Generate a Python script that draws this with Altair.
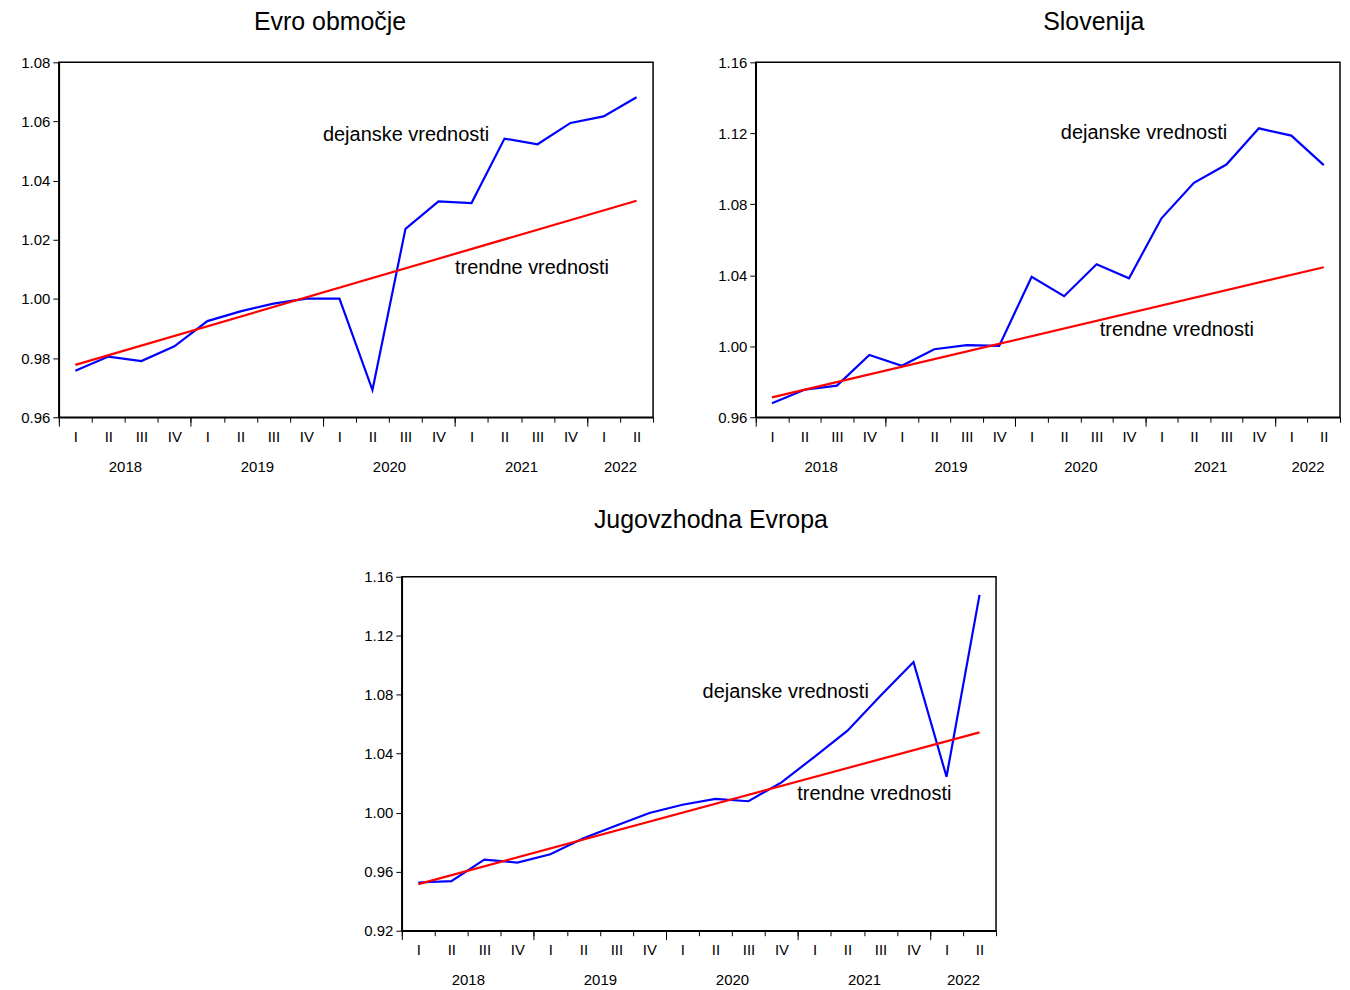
import json
import altair as alt
import pandas as pd

# ---------------- data ----------------
YEARS = ["2018", "2019", "2020", "2021", "2022"]
QUARTER_LABELS = ["I", "II", "III", "IV"]
N_PERIODS = 18  # 2018 Q1 .. 2022 Q2

EA_ACTUAL = [0.9757, 0.9805, 0.9790, 0.9840, 0.9925, 0.9958, 0.9984, 1.0001,
             1.0001, 0.9692, 1.0237, 1.0330, 1.0324, 1.0542, 1.0523, 1.0595,
             1.0617, 1.0682]
EA_TREND = [0.9777, 1.0332]          # first and last quarter of the linear trend
EA_YTICKS = [0.96, 0.98, 1.00, 1.02, 1.04, 1.06, 1.08]

SI_ACTUAL = [0.9679, 0.9755, 0.9778, 0.9951, 0.9890, 0.9983, 1.0006, 1.0002,
             1.0391, 1.0282, 1.0462, 1.0383, 1.0721, 1.0921, 1.1024, 1.1228,
             1.1187, 1.1021]
SI_TREND = [0.9712, 1.0445]
SI_YTICKS = [0.96, 1.00, 1.04, 1.08, 1.12, 1.16]

SEE_ACTUAL = [0.9527, 0.9536, 0.9682, 0.9662, 0.9718, 0.9827, 0.9913, 0.9998,
              1.0054, 1.0094, 1.0078, 1.0206, 1.0379, 1.0556, 1.0793, 1.1022,
              1.0244, 1.1477]
SEE_TREND = [0.9516, 1.0545]
SEE_YTICKS = [0.92, 0.96, 1.00, 1.04, 1.08, 1.12, 1.16]

LABEL_ACTUAL = "dejanske vrednosti"
LABEL_TREND = "trendne vrednosti"

# ---------------- helpers ----------------
PERIODS = [(y, q) for y in YEARS for q in QUARTER_LABELS][:N_PERIODS]
X_POS = [i + 0.5 for i in range(N_PERIODS)]
YEAR_POS = []
for y in YEARS:
    xs = [X_POS[i] for i, p in enumerate(PERIODS) if p[0] == y]
    YEAR_POS.append(sum(xs) / len(xs))

FONT = "Liberation Sans"
BLUE = "#0000FF"
RED = "#FF0000"

Q_EXPR = f"{json.dumps(QUARTER_LABELS)}[floor(datum.value) % 4]"
Y_EXPR = f"{json.dumps(YEARS)}[floor(datum.value / 4)]"


def make_panel(title, actual, trend, yticks, ann, title_dx,
               title_offset, width, height):
    df = pd.DataFrame({"x": X_POS, "v": actual})
    tdf = pd.DataFrame({"x": [X_POS[0], X_POS[-1]], "v": trend})
    adf = pd.DataFrame(ann)

    xscale = alt.Scale(domain=[0, N_PERIODS], nice=False, zero=False)
    yscale = alt.Scale(domain=[yticks[0], yticks[-1]], nice=False, zero=False)

    yenc = alt.Y("v:Q", scale=yscale, title=None,
                 axis=alt.Axis(values=yticks, format=".2f", tickSize=6,
                               labelPadding=3, minExtent=50,
                               labelFlush=False, labelOverlap=False, grid=False))

    actual_line = alt.Chart(df).mark_line(color=BLUE, strokeWidth=2.2).encode(
        x=alt.X("x:Q", scale=xscale, title=None,
                axis=alt.Axis(orient="bottom", values=list(range(N_PERIODS + 1)),
                              tickSize=5, labels=False, domain=True, grid=False)),
        y=yenc,
    )
    trend_line = alt.Chart(tdf).mark_line(color=RED, strokeWidth=2.2).encode(
        x=alt.X("x:Q", scale=xscale, title=None,
                axis=alt.Axis(orient="bottom",
                              values=list(range(0, N_PERIODS, 4)),
                              tickSize=9, labels=False, domain=False, grid=False)),
        y=alt.Y("v:Q", scale=yscale, title=None),
    )
    texts = alt.Chart(adf).mark_text(align="left", baseline="middle",
                                     fontSize=20, font=FONT, color="black").encode(
        x=alt.X("x:Q", scale=xscale, title=None,
                axis=alt.Axis(orient="bottom", values=X_POS, ticks=False,
                              labelExpr=Q_EXPR, labelPadding=12, domain=False,
                              grid=False, labelFlush=False, labelOverlap=False)),
        y=alt.Y("y:Q", scale=yscale, title=None),
        text="t:N",
    )
    years = alt.Chart(df).mark_point(opacity=0).encode(
        x=alt.X("x:Q", scale=xscale, title=None,
                axis=alt.Axis(orient="bottom", values=YEAR_POS, ticks=False,
                              labelExpr=Y_EXPR, labelPadding=42, domain=False,
                              grid=False, labelFlush=False, labelOverlap=False)),
        y=alt.Y("v:Q", scale=yscale, title=None),
    )
    return alt.layer(actual_line, trend_line, texts, years).resolve_axis(
        x="independent"
    ).properties(
        width=width, height=height,
        title=alt.TitleParams(title, frame="group", dx=title_dx,
                              offset=title_offset),
    )


p1 = make_panel("Evro območje", EA_ACTUAL, EA_TREND, EA_YTICKS,
                {"t": [LABEL_ACTUAL, LABEL_TREND], "x": [8.0, 12.0],
                 "y": [1.0555, 1.0106]},
                -26, 20, 596, 356)
p2 = make_panel("Slovenija", SI_ACTUAL, SI_TREND, SI_YTICKS,
                {"t": [LABEL_ACTUAL, LABEL_TREND], "x": [9.40, 10.6],
                 "y": [1.120, 1.009]},
                46, 20, 586, 356)
p3 = make_panel("Jugovzhodna Evropa", SEE_ACTUAL, SEE_TREND, SEE_YTICKS,
                {"t": [LABEL_ACTUAL, LABEL_TREND], "x": [9.11, 11.98],
                 "y": [1.0816, 1.0126]},
                12, 37, 596, 355)

spacer = alt.Chart(pd.DataFrame({"s": [0]})).mark_point(opacity=0).properties(
    width=292, height=10, view=alt.ViewBackground(stroke="transparent")
)

top = alt.hconcat(p1, p2, spacing=50)
bottom = alt.hconcat(spacer, p3, spacing=0)

chart = alt.vconcat(top, bottom, spacing=32).properties(
    padding=0
).configure_view(
    stroke="black", strokeWidth=1.5
).configure_axis(
    domainColor="black", tickColor="black", labelColor="black",
    labelFontSize=15, labelFont=FONT, domainWidth=1.5, tickWidth=1,
).configure_title(
    font=FONT, fontSize=25, fontWeight="normal", color="black", anchor="middle"
)

chart.save("out.html", embed_options={"renderer": "svg", "actions": False})
